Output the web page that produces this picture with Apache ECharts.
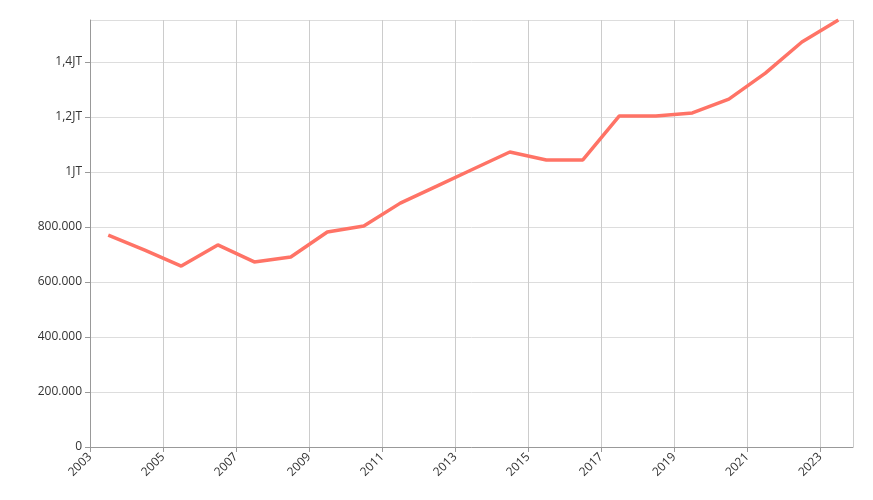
<!DOCTYPE html>
<html>
<head>
<meta charset="utf-8">
<script src="https://cdn.jsdelivr.net/npm/echarts@6/dist/echarts.min.js"></script>
<style>html,body{margin:0;padding:0;background:#fff}#chart{width:873px;height:500px}</style>
</head>
<body>
<div id="chart"></div>
<script>
// years plotted at mid-year
const years = [2003,2004,2005,2006,2007,2008,2009,2010,2011,2012,2013,2014,2015,2016,2017,2018,2019,2020,2021,2022,2023];
const values = [771000,716000,658000,735000,673000,691000,782000,804000,887000,949000,1011000,1073000,1044000,1044000,1204000,1204000,1215000,1265000,1360000,1473000,1553000];
const baseYear = 2003;

const fmtY = v => {
    if (v === 0) return '0';
    if (v >= 1000000) return (v / 1000000).toString().replace('.', ',') + 'JT';
    return (v / 1000).toFixed(0) + '.000';
};

const chart = echarts.init(document.getElementById('chart'));
chart.setOption({
    animation: false,
    grid: { left: 90, right: 20, top: 20, bottom: 53 },
    xAxis: {
        type: 'value', min: 0, max: 20.9, interval: 2,
        axisLine: { show: true, lineStyle: { color: '#999' } },
        axisTick: { show: true, lineStyle: { color: '#999' } },
        axisLabel: { formatter: v => (v % 2 === 0 ? String(v + baseYear) : ''), showMaxLabel: false, rotate: 45, color: '#333', fontSize: 12, fontFamily: 'Open Sans' },
        splitLine: { show: true, lineStyle: { color: '#ccc' } }
    },
    yAxis: {
        type: 'value', min: 0, max: 1553000, interval: 200000,
        axisLine: { show: true, lineStyle: { color: '#999' } },
        axisTick: { show: true, lineStyle: { color: '#999' } },
        axisLabel: { formatter: fmtY, color: '#333', fontSize: 12, fontFamily: 'Open Sans', showMaxLabel: false },
        splitLine: { lineStyle: { color: '#ddd' } }
    },
    series: [{
        type: 'line',
        data: years.map((y, i) => [y - baseYear + 0.5, values[i]]),
        showSymbol: false,
        lineStyle: { color: '#ff7366', width: 3.5 }
    }]
});
</script>
</body>
</html>
